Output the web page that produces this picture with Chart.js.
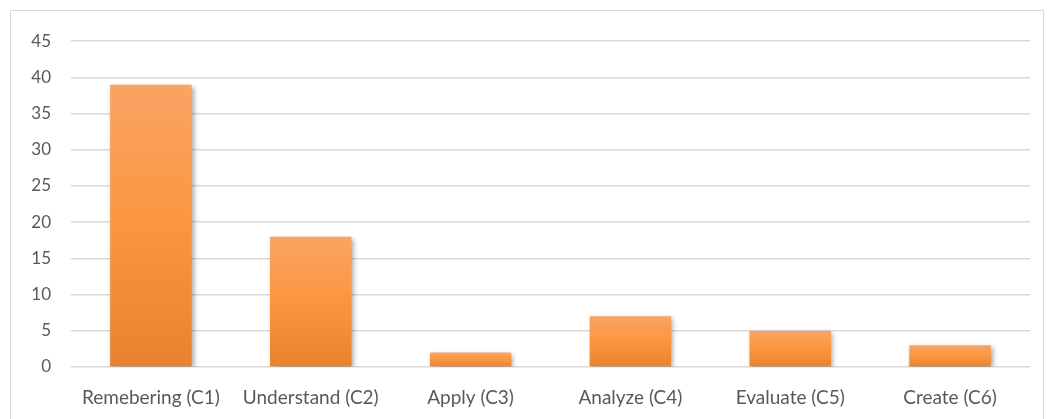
<!DOCTYPE html>
<html>
<head>
<meta charset="utf-8">
<script src="https://cdn.jsdelivr.net/npm/chart.js@4/dist/chart.umd.min.js"></script>
<style>
  body { margin: 0; background: #fff; overflow: hidden; }
  #frame {
    position: absolute; left: 10px; top: 10px;
    width: 1034px; height: 420px;
    border: 1px solid #d9d9d9; box-sizing: border-box;
  }
</style>
</head>
<body>
<div id="frame"><canvas id="bloomChart"></canvas></div>
<script>
// Bloom levels and their counts
const categories = ['Remebering (C1)', 'Understand (C2)', 'Apply (C3)', 'Analyze (C4)', 'Evaluate (C5)', 'Create (C6)'];
const counts = [39, 18, 2, 7, 5, 3];
const yTicks = [0, 5, 10, 15, 20, 25, 30, 35, 40, 45];

// per-bar orange gradient, lighter at the top
function barGradient(context) {
  const chart = context.chart;
  const { ctx, chartArea, scales } = chart;
  if (!chartArea || !scales.y) return '#f7923a';
  const value = counts[context.dataIndex];
  const top = scales.y.getPixelForValue(value);
  const bottom = scales.y.getPixelForValue(0);
  const g = ctx.createLinearGradient(0, top, 0, bottom);
  g.addColorStop(0, '#f9a463');
  g.addColorStop(0.5, '#fb963f');
  g.addColorStop(1, '#e8822e');
  return g;
}

const shadowPlugin = {
  id: 'barShadow',
  beforeDatasetsDraw(chart) {
    const ctx = chart.ctx;
    ctx.save();
    ctx.shadowColor = 'rgba(0,0,0,0.35)';
    ctx.shadowBlur = 5;
    ctx.shadowOffsetX = 2;
    ctx.shadowOffsetY = 2;
  },
  afterDatasetsDraw(chart) {
    chart.ctx.restore();
  }
};

new Chart(document.getElementById('bloomChart'), {
  type: 'bar',
  data: {
    labels: categories,
    datasets: [{
      data: counts,
      backgroundColor: barGradient,
      borderWidth: 0,
      categoryPercentage: 1,
      barPercentage: 0.51
    }]
  },
  options: {
    responsive: true,
    maintainAspectRatio: false,
    animation: false,
    layout: { padding: { left: 10, top: 30, right: 13, bottom: 12 } },
    plugins: { legend: { display: false }, tooltip: { enabled: false } },
    scales: {
      x: {
        clip: false,
        grid: { display: false },
        border: { display: false },
        ticks: { color: '#595959', font: { family: 'Lato', size: 19 }, padding: 11, maxRotation: 0 },
        afterFit(scale) { scale.height = 50; }
      },
      y: {
        min: 0,
        max: 45,
        afterBuildTicks(scale) { scale.ticks = yTicks.map(v => ({ value: v })); },
        grid: { color: '#d9d9d9', lineWidth: 1.5, drawTicks: false },
        border: { display: false },
        ticks: { color: '#595959', font: { family: 'Lato', size: 17 }, padding: 20 },
        afterFit(scale) { scale.width = 50; }
      }
    }
  },
  plugins: [shadowPlugin]
});
</script>
</body>
</html>
